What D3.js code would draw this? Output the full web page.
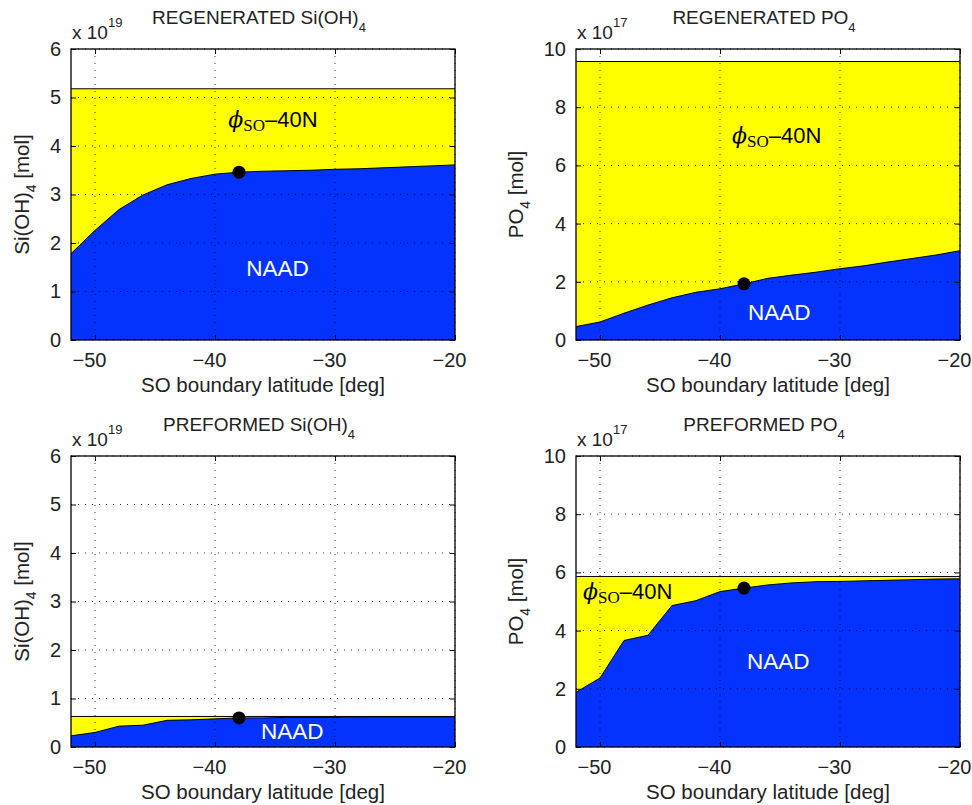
<!DOCTYPE html>
<html>
<head>
<meta charset="utf-8">
<script src="https://cdn.jsdelivr.net/npm/d3@7"></script>
<style>
  body { margin: 0; background: #fff; }
  text { font-family: "Liberation Sans", Arial, sans-serif; fill: #222; }
</style>
</head>
<body>
<script>
// SO boundary latitude [deg]
var lat = [-52, -50, -48, -46, -44, -42, -40, -38, -36, -34, -32, -30, -28, -26, -24, -22, -20];

// NAAD part of each inventory (upper edge of the blue area)
var regenSi  = [1.78, 2.26, 2.69, 2.99, 3.20, 3.33, 3.42, 3.46, 3.48, 3.49, 3.50, 3.52, 3.53, 3.55, 3.57, 3.59, 3.61];
var regenPO4 = [0.46, 0.62, 0.92, 1.20, 1.45, 1.64, 1.76, 1.93, 2.12, 2.23, 2.33, 2.45, 2.55, 2.68, 2.80, 2.92, 3.07];
var prefSi   = [0.23, 0.30, 0.43, 0.45, 0.55, 0.56, 0.58, 0.60, 0.60, 0.61, 0.61, 0.61, 0.62, 0.62, 0.62, 0.62, 0.62];
var prefPO4  = [1.88, 2.37, 3.66, 3.84, 4.86, 5.03, 5.34, 5.46, 5.57, 5.64, 5.68, 5.69, 5.71, 5.73, 5.75, 5.77, 5.78];

// total (phi_SO - 40N) inventory, top of the yellow area
var totals = [5.18, 9.57, 0.63, 5.86];

var titles   = ["REGENERATED Si(OH)", "REGENERATED PO", "PREFORMED Si(OH)", "PREFORMED PO"];
var ylabels  = ["Si(OH)", "PO", "Si(OH)", "PO"];
var exponents = ["19", "17", "19", "17"];
var ymaxes   = [6, 10, 6, 10];
var yticks6  = [0, 1, 2, 3, 4, 5, 6];
var yticks10 = [0, 2, 4, 6, 8, 10];
var xticks   = [-50, -40, -30, -20];
var dotLat   = -38;

// label anchors in data units [lat, value]; null = no label
var phiPos  = [[-38.9, 4.39], [-39.0, 6.77], null, [-51.42, 5.09]];
var naadPos = [[-37.4, 1.32], [-37.67, 0.69], [-36.17, 0.165], [-37.75, 2.68]];

var series = [regenSi, regenPO4, prefSi, prefPO4];

var W = 972, H = 805;
var svg = d3.select("body").append("svg")
    .attr("width", W).attr("height", H);

var panels = [
    {x: 71,  y: 49},
    {x: 576, y: 49},
    {x: 71,  y: 456},
    {x: 576, y: 456}
];
var pw = 384, ph = 291;
var FS = 19, TFS = 20, LFS = 20.5;

panels.forEach(function (p, i) {
    var g = svg.append("g").attr("transform", "translate(" + p.x + "," + p.y + ")");
    var x = d3.scaleLinear().domain([-52, -20]).range([0, pw]);
    var y = d3.scaleLinear().domain([0, ymaxes[i]]).range([ph, 0]);
    var yt = ymaxes[i] == 6 ? yticks6 : yticks10;
    var vals = series[i];
    var tot = totals[i];

    // yellow: total inventory
    var yellow = d3.area()
        .x(function (d) { return x(d); })
        .y0(y(0))
        .y1(y(tot));
    g.append("path").datum(lat)
        .attr("d", yellow)
        .attr("fill", "#ffff00");
    g.append("path").datum(lat)
        .attr("d", d3.line().x(function (d) { return x(d); }).y(y(tot)))
        .attr("fill", "none").attr("stroke", "#000").attr("stroke-width", 1);

    // blue: NAAD
    var blue = d3.area()
        .x(function (d, j) { return x(lat[j]); })
        .y0(y(0))
        .y1(function (d) { return y(d); });
    g.append("path").datum(vals)
        .attr("d", blue)
        .attr("fill", "#0433ff");
    g.append("path").datum(vals)
        .attr("d", d3.line().x(function (d, j) { return x(lat[j]); }).y(function (d) { return y(d); }))
        .attr("fill", "none").attr("stroke", "#000").attr("stroke-width", 1);

    // dotted grid on top
    g.selectAll(".gx").data(xticks).enter().append("line")
        .attr("x1", function (d) { return x(d); }).attr("x2", function (d) { return x(d); })
        .attr("y1", 0).attr("y2", ph)
        .attr("stroke", "#000").attr("stroke-width", 0.8)
        .attr("stroke-dasharray", "1,6");
    g.selectAll(".gy").data(yt).enter().append("line")
        .attr("y1", function (d) { return y(d); }).attr("y2", function (d) { return y(d); })
        .attr("x1", 0).attr("x2", pw)
        .attr("stroke", "#000").attr("stroke-width", 0.8)
        .attr("stroke-dasharray", "1,6");

    // axes, ticks inward on all sides
    var xb = g.append("g").attr("transform", "translate(0," + ph + ")")
        .call(d3.axisBottom(x).tickValues(xticks).tickSizeInner(-5).tickSizeOuter(0).tickPadding(13));
    var xt = g.append("g")
        .call(d3.axisTop(x).tickValues(xticks).tickSizeInner(-5).tickSizeOuter(0).tickFormat(""));
    var yl = g.append("g")
        .call(d3.axisLeft(y).tickValues(yt).tickFormat(d3.format("d")).tickSizeInner(-5).tickSizeOuter(0).tickPadding(10));
    var yr = g.append("g").attr("transform", "translate(" + pw + ",0)")
        .call(d3.axisRight(y).tickValues(yt).tickSizeInner(-5).tickSizeOuter(0).tickFormat(""));
    [xb, xt, yl, yr].forEach(function (a) {
        a.select(".domain").remove();
        a.selectAll("line").attr("stroke", "#000");
        a.selectAll("text").attr("font-size", TFS).attr("font-family", "Liberation Sans, Arial, sans-serif").attr("fill", "#222");
    });
    xb.selectAll("text").attr("dx", -6);

    g.append("rect")
        .attr("width", pw).attr("height", ph)
        .attr("fill", "none").attr("stroke", "#000").attr("stroke-width", 1.3);

    // marker at the reference latitude
    var k = lat.indexOf(dotLat);
    g.append("circle")
        .attr("cx", x(dotLat)).attr("cy", y(vals[k]))
        .attr("r", 6.5).attr("fill", "#000");

    // region labels
    if (phiPos[i]) {
        var t = g.append("text")
            .attr("x", x(phiPos[i][0])).attr("y", y(phiPos[i][1]))
            .attr("font-size", 22).attr("fill", "#000").style("fill", "#000");
        t.append("tspan").text("ϕ")
            .attr("font-family", "DejaVu Serif, serif").attr("font-style", "italic").attr("font-size", 22);
        t.append("tspan").text("SO")
            .attr("font-family", "Liberation Serif, serif").attr("font-size", 17).attr("dy", 4);
        t.append("tspan").text("–40N")
            .attr("dy", -4);
    }
    g.append("text")
        .attr("x", x(naadPos[i][0])).attr("y", y(naadPos[i][1]))
        .attr("font-size", 22.5).style("fill", "#fff")
        .text("NAAD");

    // title
    var tt = svg.append("text")
        .attr("x", p.x + pw / 2 - 4).attr("y", p.y - 25)
        .attr("text-anchor", "middle").attr("font-size", FS);
    tt.append("tspan").text(titles[i]);
    tt.append("tspan").text("4").attr("font-size", 13).attr("dy", 8);

    // exponent
    var ex = svg.append("text")
        .attr("x", p.x + 1).attr("y", p.y - 10)
        .attr("font-size", FS);
    ex.append("tspan").text("x 10");
    ex.append("tspan").text(exponents[i]).attr("font-size", 13).attr("dy", -12);

    // axis labels
    svg.append("text")
        .attr("x", p.x + pw / 2).attr("y", p.y + ph + 52)
        .attr("text-anchor", "middle").attr("font-size", LFS)
        .text("SO boundary latitude [deg]");
    var lx = i % 2 == 0 ? 29 : 523;
    var yl2 = svg.append("text")
        .attr("transform", "translate(" + lx + "," + (p.y + ph / 2) + ") rotate(-90)")
        .attr("text-anchor", "middle").attr("font-size", LFS);
    yl2.append("tspan").text(ylabels[i]);
    yl2.append("tspan").text("4").attr("font-size", 14).attr("dy", 7);
    yl2.append("tspan").text(" [mol]").attr("dy", -7);
});
</script>
</body>
</html>
